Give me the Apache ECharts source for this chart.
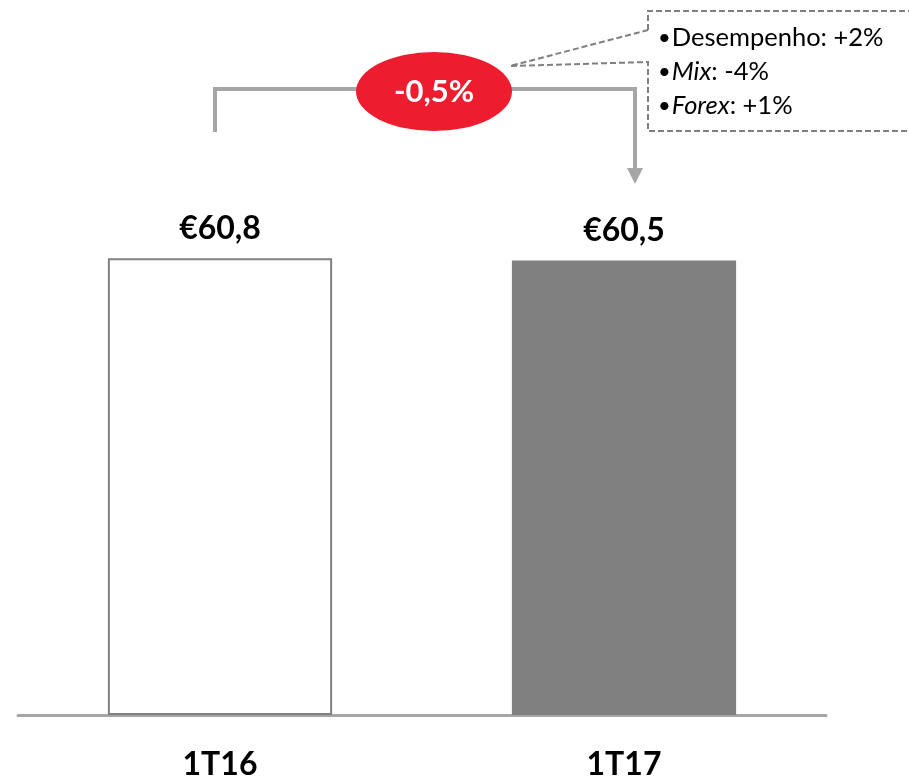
<!DOCTYPE html>
<html><head><meta charset="utf-8">
<script src="https://cdn.jsdelivr.net/npm/echarts@6/dist/echarts.min.js"></script>
<style>html,body{margin:0;padding:0;background:#fff}#c{width:909px;height:777px}</style>
</head><body><div id="c"></div>
<script>
const categories = ['1T16', '1T17'];
const values = [60.8, 60.5];
const valueLabels = ['€60,8', '€60,5'];
const changeLabel = '-0,5%';
const driverNames = ['Desempenho', 'Mix', 'Forex'];
const driverValues = ['+2%', '-4%', '+1%'];
const driverItalic = [false, true, true];

const chart = echarts.init(document.getElementById('c'));
const F = 'Lato';
const dash = {stroke: '#7F7F7F', lineWidth: 2, lineDash: [6, 3], fill: null};
const driverText = driverNames.map((n, i) => '{b|•}{' + (driverItalic[i] ? 'i' : 'n') + '|' + n + '}{n|: ' + driverValues[i] + '}').join('\n');

chart.setOption({
  animation: false,
  grid: {left: 18, right: 83, top: 114, bottom: 62, outerBoundsMode: 'none', containLabel: false},
  xAxis: {
    type: 'category', data: categories,
    axisLine: {lineStyle: {color: '#A6A6A6', width: 3}},
    axisTick: {show: false},
    axisLabel: {fontFamily: F, fontWeight: 'bold', fontSize: 32, color: '#000', margin: 34}
  },
  yAxis: {type: 'value', min: 0, max: 80, show: false, splitLine: {show: false}},
  series: [{
    type: 'bar', barWidth: '55.5%',
    data: values.map((v, i) => ({
      value: v,
      itemStyle: i === 0 ? {color: '#fff', borderColor: '#808080', borderWidth: 2} : {color: '#808080'}
    })),
    label: {
      show: true, position: 'top', distance: 14,
      fontFamily: F, fontWeight: 'bold', fontSize: 32, color: '#000',
      formatter: p => valueLabels[p.dataIndex]
    }
  }],
  graphic: [
    {type: 'polyline', shape: {points: [[215, 132], [215, 89], [635, 89], [635, 170]]}, style: {stroke: '#A6A6A6', lineWidth: 4, fill: null}},
    {type: 'polygon', shape: {points: [[627, 168], [643, 168], [635, 184]]}, style: {fill: '#A6A6A6'}},
    {type: 'polyline', shape: {points: [[648, 30], [648, 11], [915, 11], [915, 131], [648, 131], [648, 62], [510, 66], [648, 30]]}, style: dash},
    {type: 'circle', shape: {cx: 0, cy: 0, r: 39.5}, x: 434, y: 91.5, scaleX: 78 / 39.5, style: {fill: '#ED1C2E'}},
    {type: 'text', x: 434, y: 92, style: {text: changeLabel, fill: '#fff', font: 'bold 31px Lato', align: 'center', verticalAlign: 'middle'}},
    {type: 'text', x: 658, y: 21, style: {
      text: driverText, fill: '#000', lineHeight: 34, fontSize: 25, fontFamily: F,
      rich: {
        b: {fontSize: 22, fontFamily: F, padding: [0, 1, 0, 0], lineHeight: 34},
        n: {fontSize: 25.5, fontFamily: F, lineHeight: 34},
        i: {fontSize: 25.5, fontFamily: F, fontStyle: 'italic', lineHeight: 34}
      }
    }}
  ]
});
</script></body></html>
